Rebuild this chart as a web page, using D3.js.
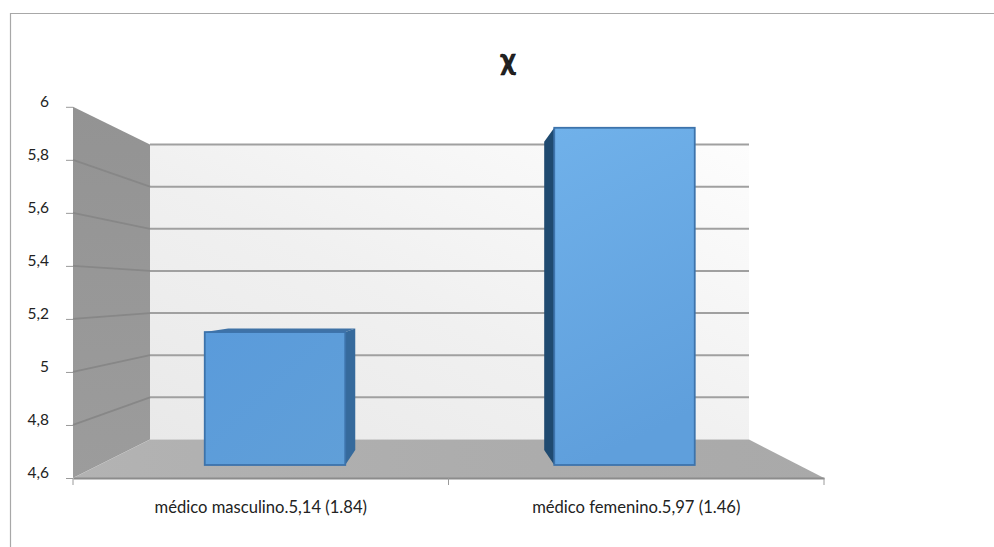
<!DOCTYPE html>
<html lang="es">
<head>
<meta charset="utf-8">
<script src="https://cdn.jsdelivr.net/npm/d3@7/dist/d3.min.js"></script>
<style>
  html, body { margin: 0; padding: 0; background: #fff; }
  svg { display: block; }
  text { font-family: Lato, "Open Sans", sans-serif; fill: #222; }
</style>
</head>
<body>
<div id="chart"></div>
<script>
// Values and labels
const categories = ["médico masculino.5,14 (1.84)", "médico femenino.5,97 (1.46)"];
const means = [5.14, 5.97];
const yTicks = [4.6, 4.8, 5, 5.2, 5.4, 5.6, 5.8, 6];
const titleText = "χ";

const width = 994, height = 547;
const svg = d3.select("#chart").append("svg").attr("width", width).attr("height", height);

// Projection of the 3D box: one y scale per depth plane
const domainY = [4.6, 6];
const yFront = d3.scaleLinear().domain(domainY).range([478, 106.8]);
const yBack = d3.scaleLinear().domain(domainY).range([439.5, 144.5]);
const yBarFront = d3.scaleLinear().domain(domainY).range([465, 120.4]);
const yBarBack = d3.scaleLinear().domain(domainY).range([450, 135]);

const xFront = d3.scaleBand().domain(categories).range([73, 824]);
const wallLeft = 150, wallRight = 749;
const barBand = d3.scaleBand().domain(categories)
  .range([100.25, 799.25]).paddingInner(0.598).paddingOuter(0.299);
const centerX = 449.5, depthRatio = 0.904;
const backX = x => centerX + (x - centerX) * depthRatio;

// Gradients
const defs = svg.append("defs");
function gradient(id, x1, y1, x2, y2, stops) {
  const g = defs.append("linearGradient").attr("id", id)
    .attr("x1", x1).attr("y1", y1).attr("x2", x2).attr("y2", y2);
  stops.forEach(([o, c]) => g.append("stop").attr("offset", o).attr("stop-color", c));
}
gradient("wallGrad", 0, 1, 1, 0, [[0, "#e9e9e9"], [0.45, "#f0f0f0"], [1, "#fdfdfd"]]);
gradient("floorGrad", 0, 0, 1, 0, [[0, "#b3b3b3"], [0.5, "#adadad"], [1, "#a9a9a9"]]);
gradient("sideWallGrad", 0, 0, 0, 1, [[0, "#939393"], [1, "#9c9c9c"]]);
gradient("barGradLow", 0, 0, 1, 1, [[0, "#5a9bdb"], [1, "#609fd8"]]);
gradient("barGradHigh", 0, 0, 0.2, 1, [[0, "#70b1ea"], [1, "#5f9fdc"]]);

// Outer chart border (top and left edges only)
svg.append("path")
  .attr("d", `M10.5,547V13.5H${width}`)
  .attr("fill", "none").attr("stroke", "#a8a8a8").attr("stroke-width", 1.2);

const polygon = (pts, fill) => svg.append("polygon")
  .attr("points", pts.map(p => p.join(",")).join(" ")).attr("fill", fill);

// Back wall, side wall and floor
polygon([[wallLeft, yBack(6)], [wallRight, yBack(6)], [wallRight, yBack(4.6)], [wallLeft, yBack(4.6)]], "url(#wallGrad)");
polygon([[73, yFront(6)], [wallLeft, yBack(6)], [wallLeft, yBack(4.6)], [73, yFront(4.6)]], "url(#sideWallGrad)");
polygon([[73, yFront(4.6)], [wallLeft, yBack(4.6)], [wallRight, yBack(4.6)], [824, yFront(4.6)]], "url(#floorGrad)");

// Gridlines across the back wall and down the side wall
const gridValues = yTicks.filter(v => v > 4.6);
svg.append("g").selectAll("line").data(gridValues).join("line")
  .attr("x1", wallLeft).attr("x2", wallRight)
  .attr("y1", d => yBack(d)).attr("y2", d => yBack(d))
  .attr("stroke", "#a0a0a0").attr("stroke-width", 2);
svg.append("g").selectAll("line").data(gridValues.filter(v => v < 6)).join("line")
  .attr("x1", 73).attr("x2", wallLeft)
  .attr("y1", d => yFront(d)).attr("y2", d => yBack(d))
  .attr("stroke", "#878787").attr("stroke-width", 1.8);

// Bars: front face plus the visible side and top faces
const bars = categories.map((c, i) => ({
  c, v: means[i],
  x0: barBand(c), x1: barBand(c) + barBand.bandwidth()
}));
bars.forEach(b => {
  const yT = yBarFront(b.v), yB = yBarFront(4.6);
  const yTB = yBarBack(b.v), yBB = yBarBack(4.6);
  const leftOfCenter = b.x1 < centerX;
  const edgeX = leftOfCenter ? b.x1 : b.x0;
  if (leftOfCenter) {
    polygon([[b.x0, yT], [backX(b.x0), yTB], [backX(b.x1), yTB], [b.x1, yT]], "#3f72a6");
  }
  polygon([[edgeX, yT], [backX(edgeX), yTB], [backX(edgeX), yBB], [edgeX, yB]],
    leftOfCenter ? "#366a9c" : "#1f4a70");
  svg.append("rect")
    .attr("x", b.x0).attr("y", yT)
    .attr("width", b.x1 - b.x0).attr("height", yB - yT)
    .attr("fill", leftOfCenter ? "url(#barGradLow)" : "url(#barGradHigh)")
    .attr("stroke", "#3d73ab").attr("stroke-width", 1.8);
});

// Value axis
const axisLeft = svg.append("g").attr("transform", "translate(73,0)")
  .call(d3.axisLeft(yFront).tickValues(yTicks).tickSize(7).tickPadding(17)
    .tickFormat(d => String(d).replace(".", ",")));
axisLeft.select(".domain").remove();
axisLeft.selectAll("line").attr("stroke", "#9a9a9a");
axisLeft.selectAll("text").attr("font-size", 15.5).attr("fill", "#1a1a1a")
  .attr("font-family", "Lato, sans-serif").attr("dy", "-0.02em");

// Category axis: labels centred in each band, ticks on the band edges
const axisBottom = svg.append("g").attr("transform", `translate(0,${yFront(4.6)})`)
  .call(d3.axisBottom(xFront).tickSize(0).tickPadding(23));
axisBottom.select(".domain").attr("stroke", "#8c8c8c").attr("stroke-width", 2);
axisBottom.selectAll("text").attr("font-size", 16.6).attr("fill", "#1a1a1a")
  .attr("font-family", "Lato, sans-serif");
const edges = [73, xFront(categories[1]), 824];
axisBottom.append("g").selectAll("line").data(edges).join("line")
  .attr("x1", d => d).attr("x2", d => d).attr("y1", 0).attr("y2", 7)
  .attr("stroke", "#9a9a9a");

// Title
svg.append("text").attr("x", 508).attr("y", 70)
  .attr("text-anchor", "middle").attr("font-size", 30).attr("font-weight", 900)
  .attr("fill", "#000").attr("stroke", "#000").attr("stroke-width", 0.5).text(titleText);
</script>
</body>
</html>
